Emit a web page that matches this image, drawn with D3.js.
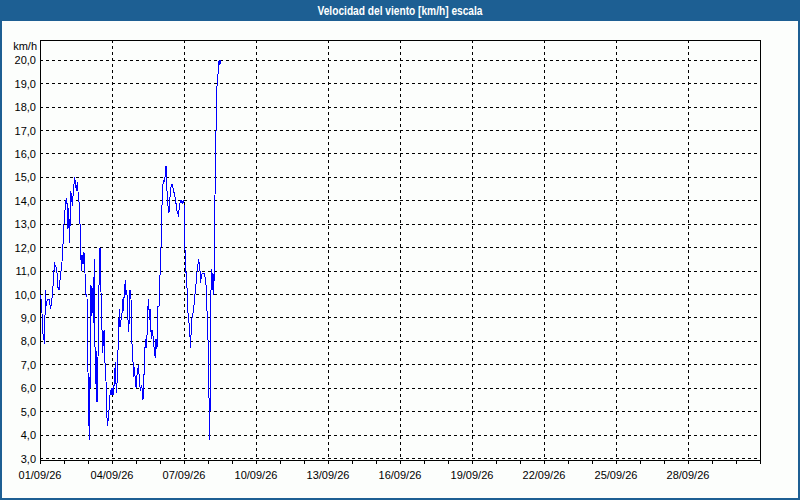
<!DOCTYPE html>
<html>
<head>
<meta charset="utf-8">
<script src="https://cdn.jsdelivr.net/npm/d3@7/dist/d3.min.js"></script>
<style>
  html, body { margin: 0; padding: 0; background: #ffffff; }
  svg { display: block; }
  text { font-family: "Liberation Sans", Arial, sans-serif; }
</style>
</head>
<body>
<svg id="chart" width="800" height="500"></svg>
<script>
// ---- data ----
const chartTitle = "Velocidad del viento [km/h] escala";
const unitLabel = "km/h";
const startDate = "2026-09-01T00:00:00";
const endDate = "2026-10-01T00:00:00";
// hours since 01/09/26 00:00
const hoursFromStart = [
  0.7, 2, 2.7, 4.7, 5.3, 6.3, 7.3, 9, 10.7, 12.7, 13.7, 14.7, 16.7, 18, 19, 21, 22, 23.3, 24, 25.3,
  26.3, 27.3, 28, 28.7, 29.7, 30.7, 31.3, 32.3, 33, 34, 34.7, 35.7, 36.3, 37.3, 38, 39.3, 40.3, 41.3, 42, 43,
  44, 45, 46, 47, 48, 48.7, 49.3, 49.7, 50.3, 51, 51.7, 52.3, 53.3, 54.3, 55.3, 56.3, 57, 58, 59, 60,
  61, 62, 62.7, 63.7, 64.3, 64.7, 65.3, 66, 66.7, 67.3, 68, 68.7, 69.3, 70.3, 71.3, 72, 73, 73.7, 74.7, 75.3,
  76, 76.7, 77.3, 78, 78.7, 79.3, 80, 81, 82, 82.7, 83.3, 84.3, 85.3, 86, 86.7, 87.7, 88.3, 89.3, 90, 91,
  92, 92.7, 93.7, 94.7, 95.3, 96.3, 97.3, 98.3, 99.3, 100.3, 101.3, 102.3, 103, 103.7, 104.7, 105.3, 106, 106.7, 107.3, 108,
  108.7, 109.3, 110, 110.7, 111.3, 112, 112.7, 113.7, 114.7, 115.3, 116, 117, 118, 119, 120, 121, 122, 123, 124, 124.7,
  125.3, 126, 126.7, 127.3, 128.3, 129, 129.7, 130.7, 131.3, 132.3, 133.3, 134.3, 135.3, 136.3, 137.3, 138.3, 139.3, 140.3, 141.3, 142.3,
  143.3, 144, 144.3, 145, 145.7, 146.7, 147.3, 148, 149, 150, 150.7, 151.3, 152, 153, 153.7, 154.7, 155.7, 156.7, 157.3, 158,
  158.7, 159.3, 160, 160.7, 161.3, 162.3, 163.3, 164.3, 165.3, 166.3, 167.3, 167.7, 168.3, 168.7, 169.3, 169.7, 170.3, 170.7, 171.3, 172,
  172.7, 173, 173.7, 174.3, 175, 175.7, 176.3, 177, 178, 178.7, 179.3, 180, 180.3
];
const windSpeed = [
  10.0, 9.2, 8.4, 7.9, 10.2, 9.5, 9.8, 9.8, 9.4, 10.1, 10.9, 11.3, 11.1, 10.3, 10.2, 11.0, 11.4, 12.4, 13.0, 13.8,
  14.1, 13.8, 12.8, 13.7, 12.2, 14.4, 14.3, 13.8, 14.2, 14.7, 15.0, 14.7, 14.4, 14.8, 14.4, 13.8, 12.7, 11.0, 11.7, 11.3,
  11.8, 10.9, 10.0, 9.9, 6.7, 5.0, 3.8, 6.5, 6.0, 10.4, 9.1, 10.3, 8.8, 11.5, 6.2, 7.6, 5.4, 7.3, 10.4, 12.0,
  10.1, 8.5, 7.5, 8.4, 8.5, 7.4, 6.8, 6.3, 5.1, 4.4, 4.6, 4.9, 5.2, 5.9, 5.8, 6.0, 5.7, 5.9, 6.6, 7.1,
  6.2, 5.8, 6.6, 7.6, 8.6, 9.4, 8.6, 8.9, 9.2, 9.8, 9.3, 10.1, 10.6, 10.0, 10.2, 9.5, 8.4, 8.9, 10.2, 9.8,
  7.9, 7.4, 6.5, 6.9, 6.2, 6.0, 6.8, 6.9, 6.5, 5.9, 6.1, 6.0, 5.5, 6.2, 7.4, 8.1, 7.7, 8.0, 8.5, 9.5,
  9.8, 8.9, 9.4, 8.7, 8.1, 8.5, 8.4, 7.9, 7.5, 7.3, 8.1, 7.7, 9.5, 9.5, 10.8, 12.0, 13.8, 14.7, 14.9, 14.8,
  15.2, 15.5, 14.9, 14.0, 13.7, 13.5, 14.0, 14.5, 14.7, 14.7, 14.5, 14.3, 14.1, 13.8, 13.5, 13.4, 13.7, 14.0, 14.0, 13.9,
  14.0, 13.9, 12.6, 11.9, 11.1, 10.6, 10.0, 9.2, 8.8, 8.2, 7.7, 8.8, 9.0, 9.2, 9.4, 9.9, 10.3, 10.8, 11.1, 11.3,
  11.5, 11.3, 11.0, 10.5, 10.8, 10.9, 10.9, 10.9, 10.7, 10.3, 8.9, 8.8, 7.4, 5.7, 5.5, 3.8, 6.1, 9.2, 11.1, 10.6,
  10.2, 10.9, 10.0, 11.1, 14.2, 16.2, 17.7, 18.9, 19.4, 19.9, 20.0, 19.8, 20.0
];
const yTickValues = [3, 4, 5, 6, 7, 8, 9, 10, 11, 12, 13, 14, 15, 16, 17, 18, 19, 20];
const xLabelEveryDays = 3;

// ---- drawing ----
const W = 800, H = 500;
const plot = { left: 40, top: 40, right: 760, bottom: 460 };
const svg = d3.select("#chart");

const t0 = new Date(startDate), t1 = new Date(endDate);
const x = d3.scaleTime().domain([t0, t1]).range([plot.left, plot.right]);
const y = d3.scaleLinear().domain([3, 20]).range([458.6, 60.2]);

// background & frame
svg.append("rect").attr("x", 0).attr("y", 0).attr("width", W).attr("height", H).attr("fill", "#1d5f93");
svg.append("rect").attr("x", 2).attr("y", 21).attr("width", W - 4).attr("height", H - 23).attr("fill", "#fcfefc");

svg.append("text")
  .attr("x", W / 2).attr("y", 15)
  .attr("text-anchor", "middle")
  .attr("fill", "#ffffff")
  .attr("font-weight", "bold")
  .attr("font-size", "12px")
  .attr("textLength", 165)
  .attr("lengthAdjust", "spacingAndGlyphs")
  .text(chartTitle);

const g = svg.append("g");

// horizontal grid
g.selectAll("line.hgrid").data(yTickValues).join("line")
  .attr("class", "hgrid")
  .attr("x1", plot.left).attr("x2", plot.right)
  .attr("y1", d => Math.floor(y(d)) + 0.5).attr("y2", d => Math.floor(y(d)) + 0.5)
  .attr("stroke", "#000").attr("stroke-width", 1).attr("stroke-dasharray", "3,3")
  .attr("shape-rendering", "crispEdges");

// vertical grid & labels
const allDays = d3.timeDay.range(t0, t1);
const labelDays = allDays.filter((d, i) => i % xLabelEveryDays === 0);
g.selectAll("line.vgrid").data(labelDays.slice(1)).join("line")
  .attr("class", "vgrid")
  .attr("x1", d => Math.round(x(d)) + 0.5).attr("x2", d => Math.round(x(d)) + 0.5)
  .attr("y1", plot.top).attr("y2", plot.bottom)
  .attr("stroke", "#000").attr("stroke-width", 1).attr("stroke-dasharray", "3,3")
  .attr("shape-rendering", "crispEdges");

// x axis ticks (daily)
g.selectAll("line.xtick").data(allDays.concat([t1])).join("line")
  .attr("class", "xtick")
  .attr("x1", d => Math.round(x(d)) + 0.5).attr("x2", d => Math.round(x(d)) + 0.5)
  .attr("y1", plot.bottom).attr("y2", plot.bottom + 4)
  .attr("stroke", "#000").attr("shape-rendering", "crispEdges");

const fmt = d3.timeFormat("%d/%m/%y");
g.selectAll("text.xlab").data(labelDays).join("text")
  .attr("class", "xlab")
  .attr("x", d => x(d)).attr("y", 479)
  .attr("text-anchor", "middle")
  .attr("font-size", "11px").attr("fill", "#000")
  .text(d => fmt(d));

// y labels
const yfmt = d => d3.format(".1f")(d).replace(".", ",");
g.selectAll("text.ylab").data(yTickValues).join("text")
  .attr("class", "ylab")
  .attr("x", 36).attr("y", d => y(d) + 4)
  .attr("text-anchor", "end")
  .attr("font-size", "11px").attr("fill", "#000")
  .text(d => yfmt(d));

svg.append("text")
  .attr("x", 37).attr("y", 50)
  .attr("text-anchor", "end")
  .attr("font-size", "11px").attr("fill", "#000")
  .text(unitLabel);

// plot border
g.append("rect")
  .attr("x", plot.left + 0.5).attr("y", plot.top + 0.5)
  .attr("width", plot.right - plot.left).attr("height", plot.bottom - plot.top)
  .attr("fill", "none").attr("stroke", "#000").attr("stroke-width", 1)
  .attr("shape-rendering", "crispEdges");

// data line
const series = hoursFromStart.map((h, i) => ({ t: new Date(t0.getTime() + h * 3600e3), v: windSpeed[i] }));
const line = d3.line().x(d => x(d.t)).y(d => y(d.v));
g.append("path")
  .datum(series)
  .attr("d", line)
  .attr("fill", "none")
  .attr("stroke", "#0000ff")
  .attr("stroke-width", 1)
  .attr("shape-rendering", "crispEdges");
</script>
</body>
</html>
